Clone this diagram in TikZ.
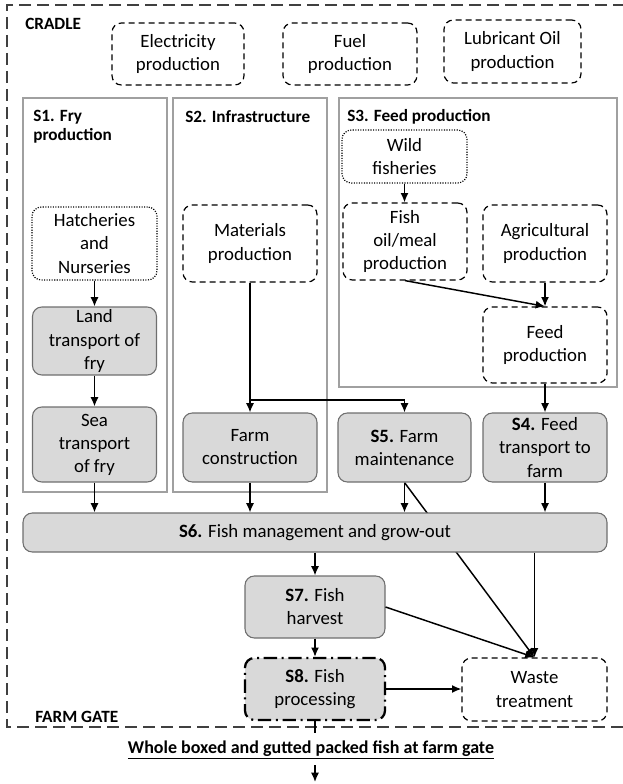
\documentclass[tikz,border=0pt]{standalone}
\usepackage{fontspec}
\setmainfont{Carlito}
\usetikzlibrary{arrows.meta}
\pgfdeclarelayer{bg}
\pgfsetlayers{bg,main}
\newlength\px
\setlength\px{0.75pt}
\definecolor{boxfill}{HTML}{D9D9D9}
\definecolor{boxline}{HTML}{6F6F6F}
\definecolor{secline}{HTML}{A0A0A0}
\definecolor{frameline}{HTML}{404040}
\newcommand\bxfont{\fontsize{14.1}{17.3}\selectfont}
\newcommand\ttlfont{\fontsize{12.9}{14.3}\selectfont\bfseries}
\newcommand\outfont{\fontsize{13.5}{15}\selectfont\bfseries}
\tikzset{
  bxbase/.style={rounded corners=7pt, align=center, inner sep=0pt, font=\bxfont},
  dbox/.style={bxbase, draw=black, line width=0.9pt, dash pattern=on 4.5pt off 3pt, fill=white},
  obox/.style={bxbase, draw=black, line width=0.9pt, dash pattern=on 0.8pt off 1.1pt, fill=white},
  gbox/.style={bxbase, draw=boxline, line width=0.8pt, fill=boxfill},
  pbox/.style={bxbase, draw=black, line width=1.7pt, fill=boxfill, dash pattern=on 10pt off 3.5pt on 1.5pt off 3.5pt},
  secbox/.style={draw=secline, line width=0.8pt},
  frm/.style={draw=frameline, line width=0.8pt, dash pattern=on 9pt off 4.5pt},
  ttl/.style={font=\ttlfont, inner sep=0pt, align=left},
  arr/.style={-{Latex[length=7pt,width=6pt]}, line width=1.1pt},
}
\begin{document}
\begin{tikzpicture}[x=0.75pt, y=-0.75pt]
\useasboundingbox (0,0) rectangle (622,784);

% outer frame
\draw[frm] (625,5) -- (7,5) -- (7,727) -- (625,727);

% section boxes
\draw[secbox] (23,98) rectangle (167,492);
\draw[secbox] (173,98) rectangle (327,492);
\draw[secbox] (339,98) rectangle (617,387);

% labels
\node[ttl, anchor=west] (cradle) at (25,24) {CRADLE};
\node[ttl, anchor=west] (gate) at (35,717) {FARM GATE};
\node[ttl, anchor=west] (t1) at (33,126.5) {S1. Fry\\production};
\node[ttl, anchor=west] (t2) at (185,117) {S2. Infrastructure};
\node[ttl, anchor=west] (t3) at (347,117) {S3. Feed production};

% top row
\node[dbox, minimum width=132\px, minimum height=62\px] (elec) at (178,54) {Electricity\\production};
\node[dbox, minimum width=134\px, minimum height=62\px] (fuel) at (350,54) {Fuel\\production};
\node[dbox, minimum width=137\px, minimum height=63\px] (lub) at (512.5,51.5) {Lubricant Oil\\production};

% S3 contents
\node[obox, minimum width=125\px, minimum height=53\px] (wild) at (404.5,156.5) {Wild\\fisheries};
\node[dbox, minimum width=124\px, minimum height=77\px] (fishoil) at (405,241.5) {Fish\\oil/meal\\production};
\node[dbox, minimum width=124\px, minimum height=77\px] (agri) at (545,243.5) {Agricultural\\production};
\node[dbox, minimum width=124\px, minimum height=76\px] (feedp) at (545,345) {Feed\\production};

% S1 contents
\node[obox, minimum width=125\px, minimum height=73\px] (hatch) at (94.5,243.5) {Hatcheries\\and\\Nurseries};
\node[gbox, minimum width=124\px, minimum height=68\px] (land) at (94.5,341) {Land\\transport of\\fry};
\node[gbox, minimum width=124\px, minimum height=75\px] (sea) at (94.5,444.5) {Sea\\transport\\of fry};

% S2 contents
\node[dbox, minimum width=134\px, minimum height=77\px] (mat) at (250,243.5) {Materials\\production};
\node[gbox, minimum width=134\px, minimum height=69\px] (farmc) at (250,447.5) {Farm\\construction};

% middle row
\node[gbox, minimum width=133\px, minimum height=69\px] (s5) at (404.5,447.5) {\textbf{S5.} Farm\\maintenance};
\node[gbox, minimum width=124\px, minimum height=69\px] (s4) at (545,447.5) {\textbf{S4.} Feed\\transport to\\farm};

\node[gbox, minimum width=584\px, minimum height=39\px] (s6) at (315,532.5) {\textbf{S6.} Fish management and grow-out};
\node[gbox, minimum width=140\px, minimum height=62\px] (s7) at (315,607) {\textbf{S7.} Fish\\harvest};
\node[pbox, minimum width=140\px, minimum height=62\px] (s8) at (315,689) {\textbf{S8.} Fish\\processing};
\node[dbox, minimum width=145\px, minimum height=63\px] (waste) at (534.5,689.5) {Waste\\treatment};

\node[font=\outfont, inner sep=0pt] (out) at (311,750) {\underline{Whole boxed and gutted packed fish at farm gate}};

% connectors
\draw[arr] (wild.south) -- (wild.south |- fishoil.north);
\draw[arr] (fishoil.south) -- (feedp.north);
\draw[arr] (agri.south) -- (feedp.north);
\draw[arr] (hatch.south) -- (land.north);
\draw[arr] (land.south) -- (sea.north);
\coordinate (J) at (250,400);
\draw[arr] (mat.south) -- (farmc.north);
\draw[arr] (J) -| (s5.north);
\draw[arr] (feedp.south) -- (s4.north);
\draw[arr] (sea.south) -- (sea.south |- s6.north);
\draw[arr] (farmc.south) -- (farmc.south |- s6.north);
\draw[arr] (s5.south) -- (s5.south |- s6.north);
\draw[arr] (s4.south) -- (s4.south |- s6.north);
\draw[arr] (s6.south -| s7.north) -- (s7.north);
\draw[arr] (s7.south) -- (s8.north);
\draw[arr] (s8.east) -- (s8.east -| waste.west);
\draw[arr] (s7.east) -- (waste.north);
\draw[arr] (s6.south -| waste.north) -- (waste.north);
\begin{pgfonlayer}{bg}
\draw[arr] (s5.south) -- (waste.north);
\end{pgfonlayer}

\coordinate (g1) at (315,733);
\draw[line width=1.8pt] (s8.south) -- (g1);
\coordinate (f1) at (315,765);
\coordinate (f2) at (315,782);
\draw[arr] (f1) -- (f2);
\end{tikzpicture}
\end{document}
